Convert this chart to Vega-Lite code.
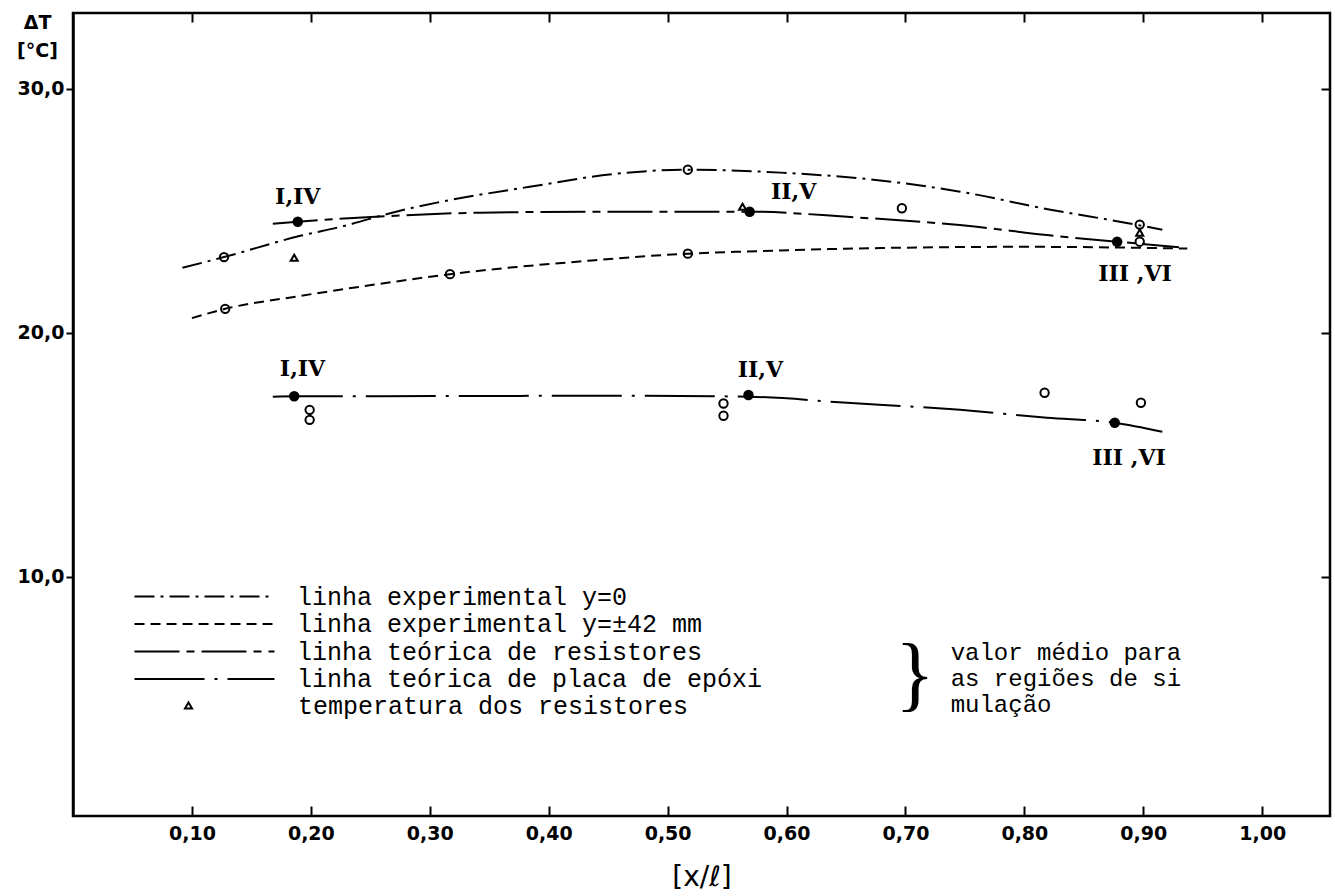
{
  "$schema": "https://vega.github.io/schema/vega-lite/v6.json",
  "width": 1257,
  "height": 803,
  "autosize": {"type": "none"},
  "padding": {"left": 73, "top": 13, "right": 5, "bottom": 80},
  "background": "white",
  "config": {
    "view": {"stroke": "black", "strokeWidth": 2.5},
    "axis": {
      "grid": false,
      "domainColor": "black",
      "domainWidth": 2.5,
      "tickColor": "black",
      "tickWidth": 2,
      "labelColor": "black",
      "titleColor": "black",
      "labelFont": "DejaVu Sans",
      "labelFontWeight": "bold",
      "labelFontSize": 19,
      "titleFont": "DejaVu Sans",
      "titleFontWeight": "bold"
    }
  },
  "datasets": {
    "curvas": [
      {"serie": "linha experimental y=0", "x": 0.092, "y": 22.66},
      {"serie": "linha experimental y=0", "x": 0.127, "y": 23.1},
      {"serie": "linha experimental y=0", "x": 0.192, "y": 23.98},
      {"serie": "linha experimental y=0", "x": 0.225, "y": 24.34},
      {"serie": "linha experimental y=0", "x": 0.275, "y": 25.0},
      {"serie": "linha experimental y=0", "x": 0.306, "y": 25.33},
      {"serie": "linha experimental y=0", "x": 0.384, "y": 25.98},
      {"serie": "linha experimental y=0", "x": 0.454, "y": 26.5},
      {"serie": "linha experimental y=0", "x": 0.517, "y": 26.68},
      {"serie": "linha experimental y=0", "x": 0.595, "y": 26.56},
      {"serie": "linha experimental y=0", "x": 0.673, "y": 26.27},
      {"serie": "linha experimental y=0", "x": 0.746, "y": 25.78},
      {"serie": "linha experimental y=0", "x": 0.822, "y": 25.04},
      {"serie": "linha experimental y=0", "x": 0.886, "y": 24.5},
      {"serie": "linha experimental y=0", "x": 0.916, "y": 24.22},
      {"serie": "linha experimental y=±42 mm", "x": 0.1, "y": 20.6},
      {"serie": "linha experimental y=±42 mm", "x": 0.128, "y": 20.98},
      {"serie": "linha experimental y=±42 mm", "x": 0.19, "y": 21.5},
      {"serie": "linha experimental y=±42 mm", "x": 0.275, "y": 22.12},
      {"serie": "linha experimental y=±42 mm", "x": 0.317, "y": 22.4},
      {"serie": "linha experimental y=±42 mm", "x": 0.37, "y": 22.68},
      {"serie": "linha experimental y=±42 mm", "x": 0.426, "y": 22.92},
      {"serie": "linha experimental y=±42 mm", "x": 0.517, "y": 23.24},
      {"serie": "linha experimental y=±42 mm", "x": 0.567, "y": 23.33},
      {"serie": "linha experimental y=±42 mm", "x": 0.679, "y": 23.47},
      {"serie": "linha experimental y=±42 mm", "x": 0.8, "y": 23.52},
      {"serie": "linha experimental y=±42 mm", "x": 0.937, "y": 23.45},
      {"serie": "linha teórica de resistores", "x": 0.168, "y": 24.47},
      {"serie": "linha teórica de resistores", "x": 0.189, "y": 24.55},
      {"serie": "linha teórica de resistores", "x": 0.275, "y": 24.8},
      {"serie": "linha teórica de resistores", "x": 0.342, "y": 24.92},
      {"serie": "linha teórica de resistores", "x": 0.454, "y": 24.96},
      {"serie": "linha teórica de resistores", "x": 0.569, "y": 24.96},
      {"serie": "linha teórica de resistores", "x": 0.651, "y": 24.75},
      {"serie": "linha teórica de resistores", "x": 0.76, "y": 24.34},
      {"serie": "linha teórica de resistores", "x": 0.819, "y": 24.0},
      {"serie": "linha teórica de resistores", "x": 0.878, "y": 23.73},
      {"serie": "linha teórica de resistores", "x": 0.93, "y": 23.5},
      {"serie": "linha teórica de placa de epóxi", "x": 0.168, "y": 17.38},
      {"serie": "linha teórica de placa de epóxi", "x": 0.186, "y": 17.4},
      {"serie": "linha teórica de placa de epóxi", "x": 0.258, "y": 17.4},
      {"serie": "linha teórica de placa de epóxi", "x": 0.454, "y": 17.42},
      {"serie": "linha teórica de placa de epóxi", "x": 0.568, "y": 17.38},
      {"serie": "linha teórica de placa de epóxi", "x": 0.651, "y": 17.13},
      {"serie": "linha teórica de placa de epóxi", "x": 0.746, "y": 16.84},
      {"serie": "linha teórica de placa de epóxi", "x": 0.819, "y": 16.52},
      {"serie": "linha teórica de placa de epóxi", "x": 0.876, "y": 16.31},
      {"serie": "linha teórica de placa de epóxi", "x": 0.916, "y": 15.94}
    ],
    "experimentais": [
      {"x": 0.127, "y": 23.1},
      {"x": 0.517, "y": 26.68},
      {"x": 0.697, "y": 25.1},
      {"x": 0.897, "y": 24.43},
      {"x": 0.128, "y": 20.98},
      {"x": 0.317, "y": 22.4},
      {"x": 0.517, "y": 23.24},
      {"x": 0.897, "y": 23.73},
      {"x": 0.199, "y": 16.84},
      {"x": 0.199, "y": 16.43},
      {"x": 0.547, "y": 17.1},
      {"x": 0.547, "y": 16.6},
      {"x": 0.817, "y": 17.54},
      {"x": 0.898, "y": 17.13}
    ],
    "teoricos": [
      {"x": 0.189, "y": 24.55},
      {"x": 0.569, "y": 24.96},
      {"x": 0.878, "y": 23.73},
      {"x": 0.186, "y": 17.4},
      {"x": 0.568, "y": 17.45},
      {"x": 0.876, "y": 16.31}
    ],
    "resistores": [
      {"medida": "temperatura dos resistores", "x": 0.186, "y": 23.07},
      {"medida": "temperatura dos resistores", "x": 0.563, "y": 25.16},
      {"medida": "temperatura dos resistores", "x": 0.897, "y": 24.1}
    ],
    "rotulos": [
      {"texto": "I,IV", "x": 0.189, "y": 25.57},
      {"texto": "II,V", "x": 0.606, "y": 25.78},
      {"texto": "III ,VI", "x": 0.893, "y": 22.42},
      {"texto": "I,IV", "x": 0.193, "y": 18.52},
      {"texto": "II,V", "x": 0.578, "y": 18.48},
      {"texto": "III ,VI", "x": 0.888, "y": 14.88}
    ],
    "nota": [
      {"texto": "valor médio para\nas regiões de si\nmulação", "x": 0.738, "y": 6.89}
    ],
    "chave": [
      {"texto": "}", "x": 0.708, "y": 5.94}
    ]
  },
  "resolve": {"axis": {"x": "independent", "y": "independent"}},
  "layer": [
    {
      "data": {"name": "curvas"},
      "mark": {"type": "line", "interpolate": "monotone", "color": "black", "strokeWidth": 2},
      "encoding": {
        "x": {
          "field": "x", "type": "quantitative",
          "scale": {"domain": [0, 1.057], "nice": false, "zero": false},
          "axis": {
            "orient": "bottom",
            "offset": -10,
            "domain": false,
            "values": [0.1, 0.2, 0.3, 0.4, 0.5, 0.6, 0.7, 0.8, 0.9, 1.0],
            "labelExpr": "replace(format(datum.value, '.2f'), '.', ',')",
            "tickSize": 10,
            "labelPadding": 8,
            "title": "[x/ℓ]",
            "titleFontSize": 28,
            "titleFontWeight": "normal",
            "titlePadding": 20
          }
        },
        "y": {
          "field": "y", "type": "quantitative",
          "scale": {"domain": [0.2, 33.1], "nice": false, "zero": false},
          "axis": {
            "orient": "left",
            "values": [10, 20, 30],
            "labelExpr": "replace(format(datum.value, '.1f'), '.', ',')",
            "tickSize": 7,
            "labelPadding": 2,
            "title": ["ΔT", "[°C]"],
            "titleAngle": 0,
            "titleAlign": "center",
            "titleBaseline": "top",
            "titleX": -36,
            "titleY": 0,
            "titleFontSize": 19,
            "titleLineHeight": 28
          }
        },
        "strokeDash": {
          "field": "serie", "type": "nominal",
          "scale": {
            "domain": ["linha experimental y=0", "linha experimental y=±42 mm", "linha teórica de resistores", "linha teórica de placa de epóxi"],
            "range": [[20, 6, 3, 6], [10, 6], [45, 7, 8, 7], [70, 10, 3, 10]]
          },
          "legend": {
            "orient": "none",
            "legendX": 119,
            "legendY": 571,
            "title": null,
            "padding": 0,
            "symbolType": "M-7,0H7",
            "symbolSize": 400,
            "symbolStrokeWidth": 2,
            "symbolStrokeColor": "black",
            "labelFont": "Liberation Mono",
            "labelFontSize": 25,
            "labelColor": "black",
            "labelOffset": 80,
            "labelLimit": 1000,
            "rowPadding": 1.5
          }
        }
      }
    },
    {
      "data": {"name": "experimentais"},
      "mark": {"type": "point", "shape": "circle", "filled": false, "size": 70, "strokeWidth": 2, "color": "black", "opacity": 1},
      "encoding": {
        "x": {
          "field": "x", "type": "quantitative",
          "axis": {"orient": "top", "offset": -9, "domain": false, "values": [0.1, 0.2, 0.3, 0.4, 0.5, 0.6, 0.7, 0.8, 0.9, 1.0], "labels": false, "tickSize": 9, "title": null}
        },
        "y": {
          "field": "y", "type": "quantitative",
          "axis": {"orient": "right", "offset": -9, "domain": false, "values": [10, 20, 30], "labels": false, "tickSize": 9, "title": null}
        }
      }
    },
    {
      "data": {"name": "teoricos"},
      "mark": {"type": "point", "shape": "circle", "filled": true, "size": 110, "color": "black", "opacity": 1},
      "encoding": {
        "x": {"field": "x", "type": "quantitative", "axis": null},
        "y": {"field": "y", "type": "quantitative", "axis": null}
      }
    },
    {
      "data": {"name": "resistores"},
      "mark": {"type": "point", "filled": false, "size": 50, "strokeWidth": 2, "color": "black", "opacity": 1},
      "encoding": {
        "x": {"field": "x", "type": "quantitative", "axis": null},
        "y": {"field": "y", "type": "quantitative", "axis": null},
        "shape": {
          "field": "medida", "type": "nominal",
          "scale": {"range": ["triangle-up"]},
          "legend": {
            "orient": "none",
            "legendX": 103,
            "legendY": 680,
            "title": null,
            "padding": 0,
            "symbolSize": 50,
            "symbolStrokeWidth": 2,
            "symbolStrokeColor": "black",
            "symbolOpacity": 1,
            "labelFont": "Liberation Mono",
            "labelFontSize": 25,
            "labelColor": "black",
            "labelOffset": 97,
            "labelLimit": 1000
          }
        }
      }
    },
    {
      "data": {"name": "rotulos"},
      "mark": {"type": "text", "font": "DejaVu Serif", "fontWeight": "bold", "fontSize": 22, "color": "black", "align": "center", "baseline": "middle"},
      "encoding": {
        "x": {"field": "x", "type": "quantitative", "axis": null},
        "y": {"field": "y", "type": "quantitative", "axis": null},
        "text": {"field": "texto", "type": "nominal"}
      }
    },
    {
      "data": {"name": "nota"},
      "mark": {"type": "text", "font": "Liberation Mono", "fontSize": 24, "color": "black", "align": "left", "baseline": "middle", "lineBreak": "\n", "lineHeight": 26},
      "encoding": {
        "x": {"field": "x", "type": "quantitative", "axis": null},
        "y": {"field": "y", "type": "quantitative", "axis": null},
        "text": {"field": "texto", "type": "nominal"}
      }
    },
    {
      "data": {"name": "chave"},
      "mark": {"type": "text", "font": "Liberation Serif", "fontSize": 82, "color": "black", "align": "center", "baseline": "middle"},
      "encoding": {
        "x": {"field": "x", "type": "quantitative", "axis": null},
        "y": {"field": "y", "type": "quantitative", "axis": null},
        "text": {"field": "texto", "type": "nominal"}
      }
    }
  ]
}
